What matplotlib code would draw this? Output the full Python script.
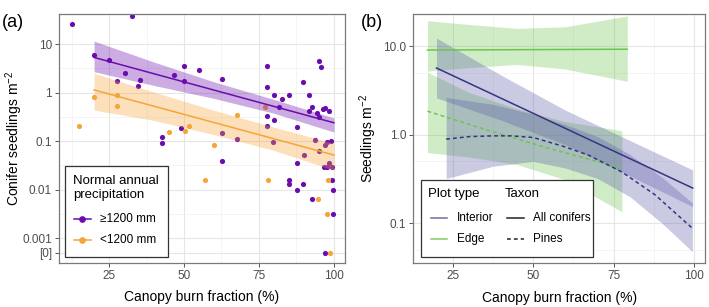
import matplotlib
matplotlib.use("Agg")
import matplotlib.pyplot as plt
from matplotlib.patches import Rectangle
from matplotlib.lines import Line2D
from matplotlib.ticker import FixedLocator, NullFormatter
import numpy as np

plt.rcParams['font.family'] = ['Liberation Sans', 'DejaVu Sans']
plt.rcParams['mathtext.default'] = 'regular'

# ---- panel (a): observed plots ----
ZERO_POS = 0.0005   # where "[0]" sits on the log axis

wet_x = [12.6, 32.7, 20.1, 25.1, 27.7, 30.2, 34.7, 35.2, 42.7, 42.7, 46.7, 49.1,
         50.1, 50.1, 55.1, 62.6, 62.6, 62.6, 67.6, 77.6, 95.1, 95.7, 77.6, 89.6,
         80.1, 82.7, 85.1, 91.7, 81.6, 92.6, 91.7, 94.2, 96.2, 96.9, 98.2, 95.1,
         77.6, 80.1, 87.6, 77.6, 79.6, 93.7, 97.6, 99.1, 97.0, 95.1, 90.0, 87.6,
         98.4, 96.7, 99.2, 97.8, 85.1, 85.1, 89.6, 87.6, 92.6, 99.2, 99.6, 99.6,
         97.1]
wet_y = [25.5, 37.8, 5.93, 4.68, 1.70, 2.56, 1.36, 1.81, 0.123, 0.090, 2.33, 0.185,
         3.57, 1.70, 2.87, 1.90, 0.148, 0.038, 0.111, 3.52, 4.40, 3.31, 1.30, 1.62,
         0.888, 0.724, 0.902, 0.875, 0.509, 0.509, 0.409, 0.372, 0.457, 0.479, 0.409, 0.308,
         0.323, 0.275, 0.194, 0.204, 0.097, 0.105, 0.097, 0.101, 0.083, 0.063, 0.051, 0.035,
         0.035, 0.029, 0.029, 0.029, 0.016, 0.013, 0.013, 0.0096, 0.0065, 0.016, 0.0096, 0.0032,
         0]

dry_x = [15.1, 20.1, 27.7, 27.7, 45.1, 50.2, 51.8, 60.0, 67.6, 57.1, 76.9, 78.1,
         94.8, 98.1, 97.6, 98.7]
dry_y = [0.204, 0.819, 0.875, 0.519, 0.153, 0.163, 0.200, 0.084, 0.344, 0.016, 0.509, 0.016,
         0.0065, 0.016, 0.0032, 0]

wet_fit_x = [20, 100]
wet_fit_y = [5.3, 0.238]
wet_band_x = [20, 40, 60, 80, 100]
wet_band_hi = [11.5, 4.24, 1.66, 0.72, 0.30]
wet_band_lo = [2.69, 1.40, 0.757, 0.374, 0.153]

dry_fit_x = [20, 100]
dry_fit_y = [1.13, 0.0514]
dry_band_x = [20, 40, 60, 80, 100]
dry_band_hi = [2.49, 1.02, 0.43, 0.193, 0.09]
dry_band_lo = [0.435, 0.266, 0.135, 0.064, 0.025]

a_yticks = [ZERO_POS, 0.001, 0.01, 0.1, 1, 10]
a_ylabels = ['[0]', '0.001', '0.01', '0.1', '1', '10']

# ---- panel (b): model predictions ----
int_all_x = [20, 99.5]
int_all_y = [5.65, 0.25]
int_all_bx = [20, 40, 60, 80, 99.5]
int_all_hi = [12.3, 4.7, 1.89, 0.86, 0.40]
int_all_lo = [2.6, 1.46, 0.77, 0.343, 0.154]

int_pine_x = [23, 30, 37.5, 43, 50, 59.3, 67.1, 77.5, 87.8, 99.4]
int_pine_y = [0.89, 0.95, 0.97, 0.97, 0.93, 0.74, 0.59, 0.38, 0.21, 0.088]
int_pine_bx = [23, 37.5, 50, 60, 70, 80, 90, 99.4]
int_pine_hi = [2.63, 2.2, 1.7, 1.3, 0.95, 0.6, 0.33, 0.17]
int_pine_lo = [0.32, 0.44, 0.5, 0.42, 0.32, 0.2, 0.1, 0.048]

edge_all_x = [17.2, 79.2]
edge_all_y = [9.0, 9.2]
edge_all_bx = [17.2, 30, 45, 60, 79.2]
edge_all_hi = [19.3, 17.5, 15.8, 16.5, 21.8]
edge_all_lo = [5.2, 5.7, 6.2, 5.5, 4.0]

edge_pine_x = [17.2, 36.7, 56.8, 77.5]
edge_pine_y = [1.84, 1.1, 0.67, 0.42]
edge_pine_bx = [17.2, 30, 45, 60, 77.5]
edge_pine_hi = [5.05, 3.0, 1.95, 1.4, 1.11]
edge_pine_lo = [0.63, 0.56, 0.46, 0.31, 0.135]

b_yticks = [0.1, 1, 10]
b_ylabels = ['0.1', '1.0', '10.0']

x_ticks = [25, 50, 75, 100]

PURPLE = '#6a0dad'
ORANGE = '#f5a53a'
NAVY = '#35357f'
GREEN = '#6cc64e'


def style(ax):
    ax.set_xticks(x_ticks)
    ax.xaxis.set_minor_locator(FixedLocator([12.5, 37.5, 62.5, 87.5]))
    ax.grid(True, which='major', color='#e6e6e6', lw=0.8, zorder=0)
    ax.grid(True, which='minor', color='#f0f0f0', lw=0.5, zorder=0)
    ax.set_axisbelow(True)
    for s in ax.spines.values():
        s.set_color('#7a7a7a')
        s.set_linewidth(0.9)
    ax.tick_params(which='major', length=3, width=0.7, color='#555555',
                   labelcolor='#4d4d4d', labelsize=8.5, pad=2)
    ax.tick_params(which='minor', length=0)
    ax.yaxis.set_minor_formatter(NullFormatter())
    ax.set_xlabel('Canopy burn fraction (%)', fontsize=10, labelpad=6)


fig = plt.figure(figsize=(7.09, 3.07), dpi=100)
ax1 = fig.add_axes([0.0832, 0.1433, 0.4034, 0.811])
ax2 = fig.add_axes([0.5829, 0.1423, 0.4114, 0.812])

# panel a
wy = [v if v > 0 else ZERO_POS for v in wet_y]
dy = [v if v > 0 else ZERO_POS for v in dry_y]
ax1.scatter(wet_x, wy, s=14, color=PURPLE, lw=0, zorder=2)
ax1.scatter(dry_x, dy, s=14, color=ORANGE, lw=0, zorder=2)
ax1.fill_between(wet_band_x, wet_band_lo, wet_band_hi, color=PURPLE, alpha=0.34, lw=0, zorder=3)
ax1.fill_between(dry_band_x, dry_band_lo, dry_band_hi, color=ORANGE, alpha=0.34, lw=0, zorder=3)
ax1.plot(wet_fit_x, wet_fit_y, color=PURPLE, lw=1.1, zorder=4)
ax1.plot(dry_fit_x, dry_fit_y, color=ORANGE, lw=1.1, zorder=4)
ax1.set_yscale('log')
ax1.set_xlim(8.3, 103.7)
ax1.set_ylim(0.000305, 41.6)
ax1.yaxis.set_major_locator(FixedLocator(a_yticks))
ax1.set_yticklabels(a_ylabels)
ax1.yaxis.set_minor_locator(FixedLocator([10 ** (k + 0.5) for k in range(-3, 1)]))
style(ax1)
ax1.set_ylabel('Conifer seedlings m$^{-2}$', fontsize=10)
ax1.yaxis.set_label_coords(-0.118, 0.5)

# legend a
T = ax1.transAxes
ax1.add_patch(Rectangle((0.021, 0.023), 0.359, 0.367, transform=T, fc='white',
                        ec='#333333', lw=0.9, zorder=10))
ax1.text(0.048, 0.3305, 'Normal annual', transform=T, fontsize=9.5, va='center', zorder=11)
ax1.text(0.048, 0.2731, 'precipitation', transform=T, fontsize=9.5, va='center', zorder=11)
for yy, col, lab in [(0.1755, PURPLE, '\u22651200 mm'), (0.0924, ORANGE, '<1200 mm')]:
    ax1.add_line(Line2D([0.0524, 0.112], [yy, yy], transform=T, color=col, lw=1.1, zorder=11))
    ax1.add_line(Line2D([0.082], [yy], transform=T, color=col, marker='o', ms=3.8, lw=0, zorder=11))
    ax1.text(0.143, yy, lab, transform=T, fontsize=8.5, va='center', zorder=11)

ax1.text(-0.2, 1.0, '(a)', transform=T, fontsize=13, va='top', ha='left')

# panel b
ax2.fill_between(edge_all_bx, edge_all_lo, edge_all_hi, color=GREEN, alpha=0.32, lw=0, zorder=2)
ax2.fill_between(edge_pine_bx, edge_pine_lo, edge_pine_hi, color=GREEN, alpha=0.32, lw=0, zorder=2)
ax2.fill_between(int_all_bx, int_all_lo, int_all_hi, color='#5a5aa8', alpha=0.32, lw=0, zorder=2)
ax2.fill_between(int_pine_bx, int_pine_lo, int_pine_hi, color='#5a5aa8', alpha=0.32, lw=0, zorder=2)
ax2.plot(edge_all_x, edge_all_y, color=GREEN, lw=1.1, zorder=4)
ax2.plot(edge_pine_x, edge_pine_y, color=GREEN, lw=1.1, ls=(0, (2.5, 2)), zorder=4)
ax2.plot(int_all_x, int_all_y, color=NAVY, lw=1.1, zorder=4)
ax2.plot(int_pine_x, int_pine_y, color=NAVY, lw=1.1, ls=(0, (2.5, 2)), zorder=4)
ax2.set_yscale('log')
ax2.set_xlim(12.8, 103.3)
ax2.set_ylim(0.0354, 22.95)
ax2.yaxis.set_major_locator(FixedLocator(b_yticks))
ax2.set_yticklabels(b_ylabels)
ax2.yaxis.set_minor_locator(FixedLocator([0.05, 0.5, 5]))
style(ax2)
ax2.set_ylabel('Seedlings m$^{-2}$', fontsize=10)
ax2.yaxis.set_label_coords(-0.118, 0.5)

# legend b
T = ax2.transAxes
ax2.add_patch(Rectangle((0.0254, 0.024), 0.5916, 0.31, transform=T, fc='white',
                        ec='#333333', lw=0.9, zorder=10))
ax2.text(0.0514, 0.278, 'Plot type', transform=T, fontsize=9.5, va='center', zorder=11)
ax2.text(0.314, 0.278, 'Taxon', transform=T, fontsize=9.5, va='center', zorder=11)
for yy, col, lab in [(0.1805, '#6e6eaa', 'Interior'), (0.0963, '#7fd060', 'Edge')]:
    ax2.add_line(Line2D([0.0603, 0.114], [yy, yy], transform=T, color=col, lw=1.1, zorder=11))
    ax2.text(0.149, yy, lab, transform=T, fontsize=8.5, va='center', zorder=11)
for yy, ls, lab in [(0.1805, '-', 'All conifers'), (0.0963, (0, (2.5, 2)), 'Pines')]:
    ax2.add_line(Line2D([0.320, 0.381], [yy, yy], transform=T, color='#222222', lw=1.1,
                        ls=ls, zorder=11))
    ax2.text(0.409, yy, lab, transform=T, fontsize=8.5, va='center', zorder=11)

ax2.text(-0.18, 1.0, '(b)', transform=T, fontsize=13, va='top', ha='left')

fig.savefig('out.png', dpi=100)
